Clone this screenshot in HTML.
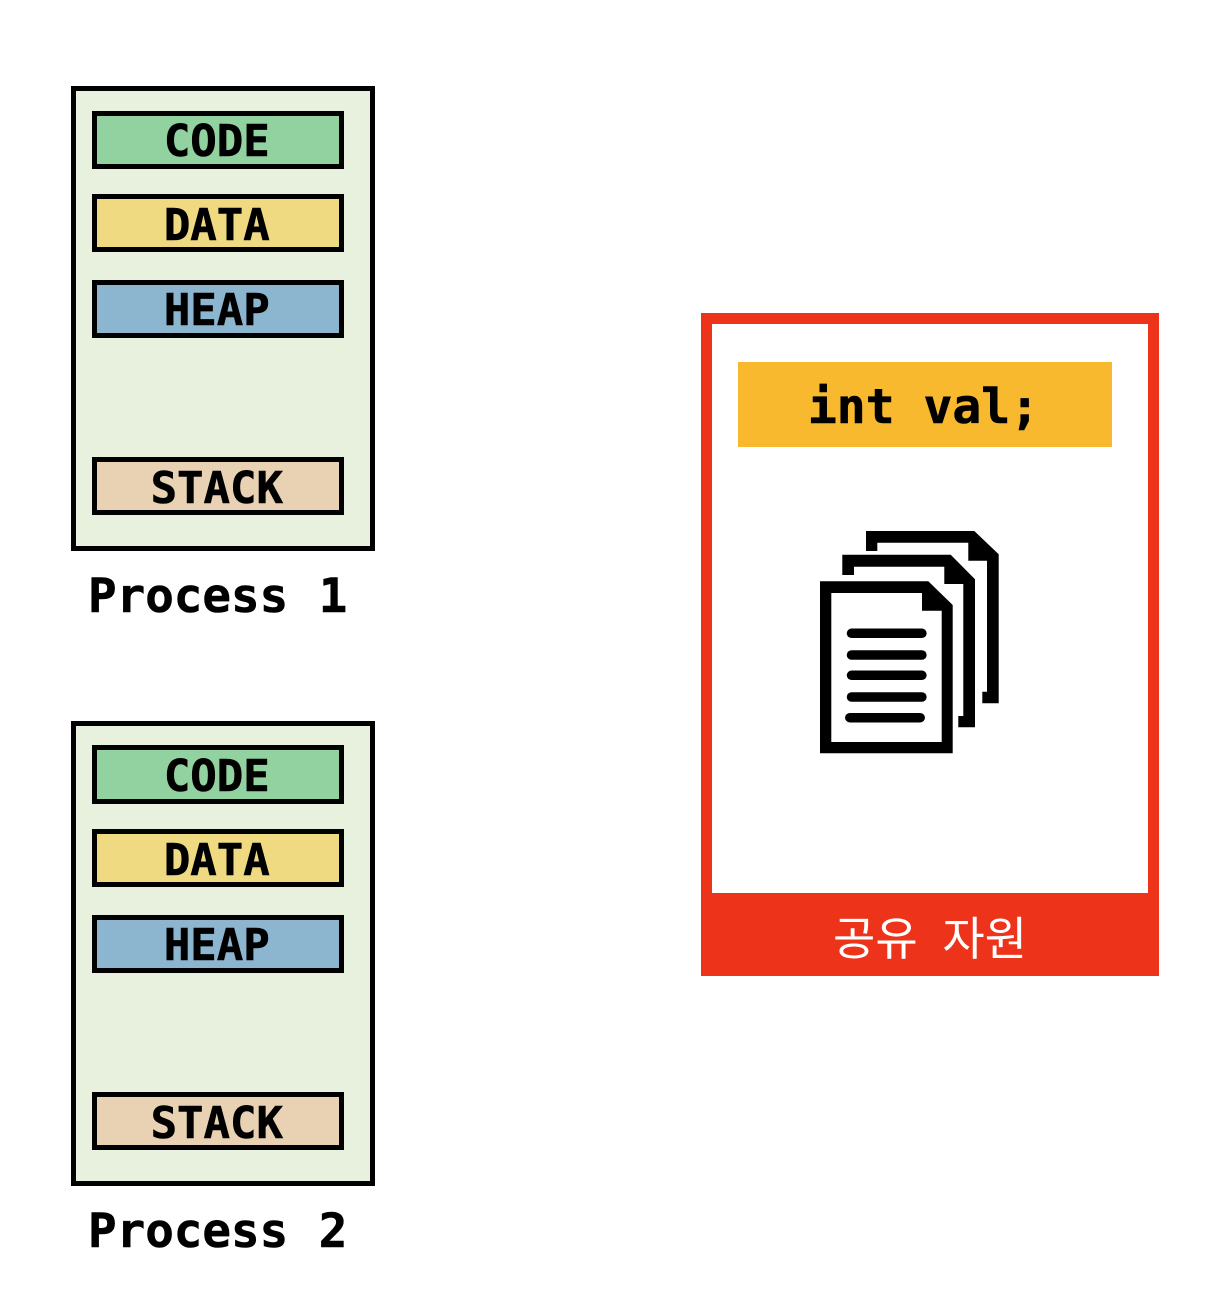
<!DOCTYPE html>
<html lang="ko">
<head>
<meta charset="utf-8">
<style>
html,body{margin:0;padding:0;background:#fff;width:1206px;height:1312px;overflow:hidden}
svg{display:block}
text{font-family:"DejaVu Sans Mono","Liberation Mono",monospace;font-weight:bold;fill:#000;stroke:#000;stroke-width:.6px}
.t{font-size:44px;text-anchor:middle}
.p{font-size:47.5px;word-spacing:2px}
.k{font-family:"Liberation Sans","Noto Sans CJK KR",sans-serif;font-weight:normal;font-size:46px;fill:#fff;stroke:none;word-spacing:12px}
</style>
</head>
<body>
<svg width="1206" height="1312" viewBox="0 0 1206 1312" xmlns="http://www.w3.org/2000/svg">
<rect width="1206" height="1312" fill="#fff"/>

<g>
<rect x="73.5" y="88.5" width="299" height="460" fill="#e8f0de" stroke="#000" stroke-width="5"/>
<rect x="94.5" y="113.5" width="247" height="53" fill="#92d2a0" stroke="#000" stroke-width="5"/>
<rect x="94.5" y="196.5" width="247" height="53" fill="#efda82" stroke="#000" stroke-width="5"/>
<rect x="94.5" y="282.5" width="247" height="53" fill="#8cb6cf" stroke="#000" stroke-width="5"/>
<rect x="94.5" y="459.5" width="247" height="53" fill="#e9d2b3" stroke="#000" stroke-width="5"/>
<text class="t" x="216.8" y="156">CODE</text>
<text class="t" x="216.8" y="240">DATA</text>
<text class="t" x="216.8" y="325">HEAP</text>
<text class="t" x="216.8" y="503">STACK</text>
<text class="p" x="88" y="612" xml:space="preserve">Process 1</text>
</g>

<g transform="translate(0,635)">
<rect x="73.5" y="88.5" width="299" height="460" fill="#e8f0de" stroke="#000" stroke-width="5"/>
<rect x="94.5" y="112.5" width="247" height="54" fill="#92d2a0" stroke="#000" stroke-width="5"/>
<rect x="94.5" y="196.5" width="247" height="53" fill="#efda82" stroke="#000" stroke-width="5"/>
<rect x="94.5" y="282.5" width="247" height="53" fill="#8cb6cf" stroke="#000" stroke-width="5"/>
<rect x="94.5" y="459.5" width="247" height="53" fill="#e9d2b3" stroke="#000" stroke-width="5"/>
<text class="t" x="216.8" y="156">CODE</text>
<text class="t" x="216.8" y="240">DATA</text>
<text class="t" x="216.8" y="325">HEAP</text>
<text class="t" x="216.8" y="503">STACK</text>
<text class="p" x="88" y="612" xml:space="preserve">Process 2</text>
</g>

<rect x="701" y="313" width="458" height="663" fill="#ee331b"/>
<rect x="712" y="324" width="436" height="569" fill="#fff"/>
<rect x="738" y="362" width="374" height="85" fill="#f8b92f"/>
<text class="p" x="923.5" y="423" text-anchor="middle" xml:space="preserve" style="font-size:48px;word-spacing:0">int val;</text>

<path d="M866 531H974.3L998.7 554.3V703.3H982.3V691.7H987V560.7H968.3V542.7H877.3V551H866Z" fill="#000"/>
<path d="M842.3 554.7H950.7L975 579.3V727.3H958.3V716H963.3V584H944.3V566.7H854V575H842.3Z" fill="#000"/>
<path fill-rule="evenodd" d="M820 581.3H928.3L952.7 605V753.3H820ZM831.3 593V742H941.7V610.7H922V593Z" fill="#000"/>
<g stroke="#000" stroke-width="9.5" stroke-linecap="round">
<line x1="851.5" y1="633.3" x2="921.9" y2="633.3"/>
<line x1="851.5" y1="655" x2="921.9" y2="655"/>
<line x1="851.5" y1="675.3" x2="921.9" y2="675.3"/>
<line x1="851.5" y1="697" x2="921.9" y2="697"/>
<line x1="849.8" y1="717.7" x2="920.2" y2="717.7"/>
</g>

<text class="k" x="833" y="955" xml:space="preserve">공유 자원</text>
</svg>
</body>
</html>
